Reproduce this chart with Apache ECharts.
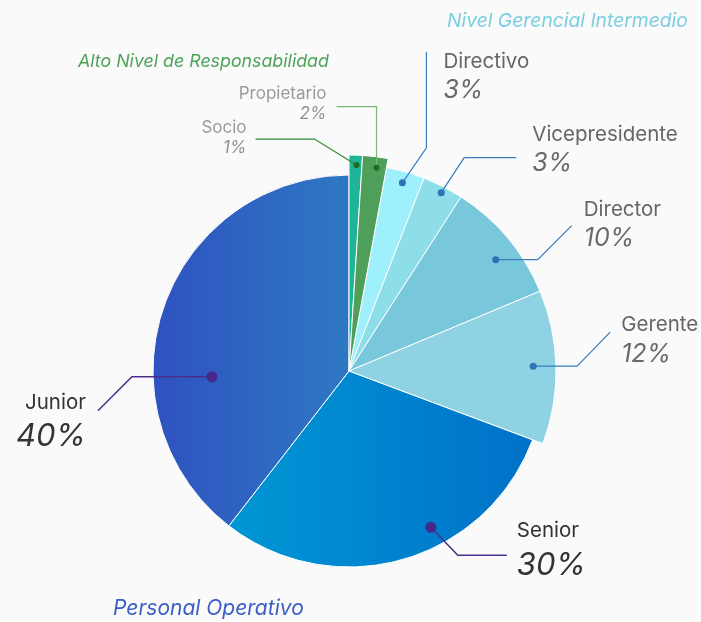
<!DOCTYPE html>
<html>
<head>
<meta charset="utf-8">
<script src="https://cdn.jsdelivr.net/npm/echarts@6/dist/echarts.min.js"></script>
<style>
html,body{margin:0;padding:0;background:#fafafa;}
#chart{width:701px;height:622px;}
</style>
</head>
<body>
<div id="chart"></div>
<script>
// ---- data ----
const categories = ['Socio', 'Propietario', 'Directivo', 'Vicepresidente', 'Director', 'Gerente', 'Senior', 'Junior'];
const values = [1.0, 1.9, 3.0, 3.2, 9.6, 12.0, 29.8, 39.5];
const percentLabels = ['1%', '2%', '3%', '3%', '10%', '12%', '30%', '40%'];
const groupNames = ['Alto Nivel de Responsabilidad', 'Nivel Gerencial Intermedio', 'Personal Operativo'];
const groupOf = [0, 0, 1, 1, 1, 1, 2, 2];

// ---- layout / style ----
const cx = 349, cy = 371;
const radii = [216, 207, 196];
const sliceColors = [
  '#1fb497', '#4f9e59', '#9ef0fc', '#8edeea', '#79c7da', '#8fd2e3',
  {type: 'linear', x: 0, y: 0, x2: 1, y2: 0, colorStops: [{offset: 0, color: '#0097d4'}, {offset: 1, color: '#0071c9'}]},
  {type: 'linear', x: 0, y: 0, x2: 1, y2: 0, colorStops: [{offset: 0, color: '#2f52c0'}, {offset: 1, color: '#2e78c3'}]}
];
const lineColors = ['#2f8a2f', '#7cb87c', '#3a7cbc', '#3a7cbc', '#3a7cbc', '#3a7cbc', '#4a2e8c', '#4a2e8c'];
const dotColors = ['#1b6e1b', '#1b6e1b', '#2e73b4', '#2e73b4', '#2e73b4', '#2e73b4', '#45288a', '#45288a'];
const dotSizes = [6, 6, 7, 7, 7, 7, 11, 11];
const dotFrac = [0.58, 0.6, 0.5, 0.53, 0.58, 0.49, 0.39, 0.35];
const dotRad = [0.954, 0.95, 0.945, 0.97, 0.89, 0.89, 0.9, 0.70];
const legs = [
  [[-42, -26], [-101, -26]],
  [[0, -61], [-40, -61]],
  [[24, -35], [24, -131]],
  [[23, -35], [75, -35]],
  [[42, 0], [76, -34]],
  [[44, 0], [77, -34]],
  [[27, 28], [76, 28]],
  [[-80, 0], [-114, 34]]
];
const labelOff = [
  [-9, -1, 'right'], [-10, -3, 'right'], [17, 25, 'left'], [16, -8, 'left'],
  [12, -1, 'left'], [11, 8, 'left'], [10, -6, 'left'], [-12, 10, 'right']
];
const richByGroup = [
  {n: {fontSize: 17, color: '#9a9a9a', lineHeight: 20}, p: {fontSize: 17, color: '#8f8f8f', fontStyle: 'italic', lineHeight: 20}},
  {n: {fontSize: 20.5, color: '#666666', lineHeight: 28}, p: {fontSize: 25, color: '#6a6a6a', fontStyle: 'italic', lineHeight: 30}},
  {n: {fontSize: 20.5, color: '#333333', lineHeight: 32}, p: {fontSize: 31, color: '#333333', fontStyle: 'italic', lineHeight: 36}}
];
const FONT = 'Inter, Lato, sans-serif';

const total = values.reduce((a, b) => a + b, 0);
const starts = [];
values.reduce((acc, v, i) => { starts[i] = acc; return acc + v; }, 0);

function dotPolar(i) {
  return [dotRad[i] * radii[groupOf[i]], starts[i] + dotFrac[i] * values[i]];
}
function dotPixel(i) {
  const p = dotPolar(i);
  const a = p[1] / total * 2 * Math.PI;
  return [cx + p[0] * Math.sin(a), cy - p[0] * Math.cos(a)];
}

function makePie(g) {
  const rich = {};
  Object.keys(richByGroup[g]).forEach(k => {
    rich[k] = Object.assign({fontFamily: FONT}, richByGroup[g][k]);
  });
  return {
    type: 'pie',
    center: [cx, cy],
    radius: [0, radii[g]],
    startAngle: 90,
    clockwise: true,
    avoidLabelOverlap: false,
    animation: false,
    silent: true,
    emphasis: {disabled: true, scale: false},
    data: categories.map((name, i) => {
      const mine = groupOf[i] === g;
      return {
        name: name,
        value: values[i],
        itemStyle: mine
          ? {color: sliceColors[i], borderColor: '#ffffff', borderWidth: 1}
          : {color: 'rgba(0,0,0,0)', borderWidth: 0},
        label: mine
          ? {show: true, position: 'outside', formatter: '{n|' + name + '}\n{p|' + percentLabels[i] + '}', rich: rich, align: labelOff[i][2]}
          : {show: false},
        labelLine: {show: false}
      };
    }),
    labelLayout: function (params) {
      const i = params.dataIndex;
      if (groupOf[i] !== g) return {};
      const d = dotPixel(i);
      const e = [d[0] + legs[i][1][0], d[1] + legs[i][1][1]];
      return {
        x: e[0] + labelOff[i][0],
        y: e[1] + labelOff[i][1],
        align: labelOff[i][2],
        verticalAlign: 'middle'
      };
    }
  };
}

const chart = echarts.init(document.getElementById('chart'), null, {renderer: 'canvas'});
chart.setOption({
  backgroundColor: '#fafafa',
  animation: false,
  title: [
    {text: groupNames[1], left: 442, top: 7, textStyle: {fontFamily: FONT, fontStyle: 'italic', fontWeight: 'normal', fontSize: 19.3, color: '#7ccde1'}},
    {text: groupNames[0], left: 73, top: 48, textStyle: {fontFamily: FONT, fontStyle: 'italic', fontWeight: 'normal', fontSize: 17.8, color: '#4fa45a'}},
    {text: groupNames[2], left: 108, top: 593, textStyle: {fontFamily: FONT, fontStyle: 'italic', fontWeight: 'normal', fontSize: 21, color: '#3a5ec6'}}
  ],
  polar: {center: [cx, cy], radius: radii[0]},
  angleAxis: {type: 'value', min: 0, max: total, startAngle: 90, clockwise: true, show: false},
  radiusAxis: {type: 'value', min: 0, max: radii[0], show: false},
  series: [
    makePie(2), makePie(1), makePie(0),
    {
      type: 'custom',
      coordinateSystem: 'polar',
      silent: true,
      z: 10,
      data: categories.map((name, i) => dotPolar(i).concat([i])),
      renderItem: function (params, api) {
        const i = api.value(2);
        const p = api.coord([api.value(0), api.value(1)]);
        const b = [p[0] + legs[i][0][0], p[1] + legs[i][0][1]];
        const e = [p[0] + legs[i][1][0], p[1] + legs[i][1][1]];
        return {
          type: 'group',
          children: [
            {type: 'polyline', shape: {points: [p, b, e]},
             style: {stroke: lineColors[i], lineWidth: groupOf[i] === 2 ? 1.5 : 1.2, fill: null}},
            {type: 'circle', shape: {cx: p[0], cy: p[1], r: dotSizes[i] / 2},
             style: {fill: dotColors[i]}}
          ]
        };
      }
    }
  ]
});
</script>
</body>
</html>
